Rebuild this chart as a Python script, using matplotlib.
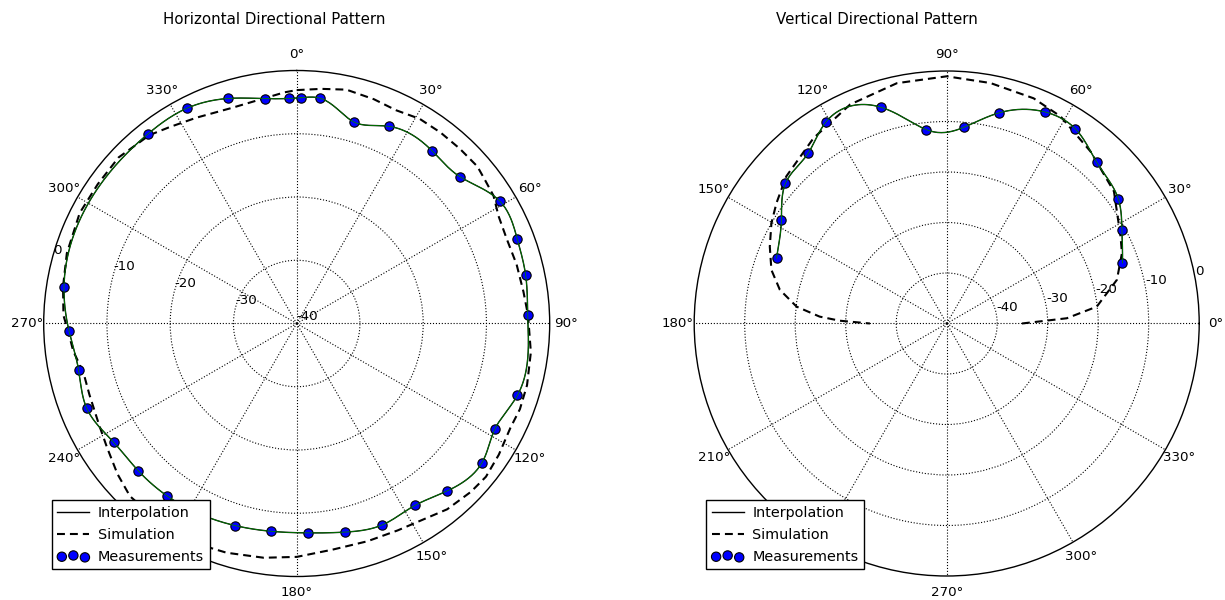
import numpy as np
import matplotlib.pyplot as plt

# Horizontal pattern (compass angles in degrees, level in dB)
h_meas_deg = [1, 6, 16, 25, 38, 48, 59, 69, 78, 88, 108, 118, 127, 138, 147,
              157, 167, 177, 187, 197, 207, 217, 227, 237, 248, 258, 268, 279,
              322, 333, 343, 352, 358]
h_meas_db = [-4.3, -4.2, -6.9, -5.6, -5.3, -5.3, -2.5, -2.65, -3.0, -3.45,
             -3.3, -4.5, -3.35, -4.4, -5.7, -5.4, -6.15, -6.85, -6.9, -6.6,
             -6.2, -5.9, -5.8, -5.5, -4.2, -4.75, -4.0, -2.75,
             -1.9, -1.8, -2.8, -4.1, -4.4]

h_sim_deg = [0, 6, 12, 19, 25, 31, 37, 43, 49, 53, 57, 62, 68, 75, 82, 88,
             97, 105, 111, 116, 123, 129, 134, 141, 147, 154, 162, 171, 180,
             188, 197, 206, 215, 224, 230, 237, 243, 251, 257, 263, 268, 272,
             279, 287, 297, 305, 313, 322, 327, 334, 343, 357, 360]
h_sim_db = [-3.1, -2.7, -2.2, -2.5, -2.8, -2.25, -2.2, -2.2, -2.15, -2.6,
            -2.9, -3.85, -4.2, -4.0, -3.8, -3.4, -2.7, -2.3, -2.2, -2.4,
            -1.9, -1.5, -1.7, -2.2, -3.1, -3.6, -3.8, -3.8, -3.1,
            -2.6, -2.1, -1.6, -1.8, -2.05, -3.0, -4.2, -4.9, -5.35, -5.4,
            -4.4, -3.85, -3.1, -2.6, -2.0, -1.5, -1.6, -1.5, -2.2, -3.0,
            -3.8, -4.4, -3.4, -3.1]

# Vertical pattern (standard angles in degrees, level in dB)
v_meas_deg = [19, 28, 36, 47, 56.5, 65, 76, 85, 96, 107, 121, 129, 139, 148, 159]
v_meas_db = [-13.2, -10.7, -8.0, -6.4, -3.8, -3.8, -7.0, -11.0, -11.4, -5.2,
             -3.5, -6.5, -7.7, -11.4, -13.9]

v_sim_deg = [0, 2.5, 6.4, 14.4, 21.9, 26.6, 38.3, 50.1, 61.2, 68.9, 79.7, 90,
             101.7, 113.8, 125.7, 137.5, 144.7, 150.2, 156.5, 163, 168.6,
             173.6, 176.9, 178.5, 180]
v_sim_db = [-35.1, -26.2, -20.1, -15.2, -12.6, -11.5, -7.8, -5.6, -3.2, -2.2,
            -1.6, -1.05, -1.4, -2.6, -4.8, -6.9, -8.7, -10.0, -11.8, -13.7,
            -16.3, -20.1, -24.8, -28.8, -34.8]

h_rticks = [-40, -30, -20, -10, 0]
v_rticks = [-40, -30, -20, -10, 0]
theta_ticks = list(range(0, 360, 30))
theta_labels = [f'{t}\u00b0' for t in theta_ticks]


def spline(x, y, xs):
    # natural cubic spline
    x = np.asarray(x, float)
    y = np.asarray(y, float)
    n = len(x)
    h = np.diff(x)
    A = np.zeros((n, n))
    b = np.zeros(n)
    A[0, 0] = A[-1, -1] = 1
    for i in range(1, n - 1):
        A[i, i - 1] = h[i - 1]
        A[i, i] = 2 * (h[i - 1] + h[i])
        A[i, i + 1] = h[i]
        b[i] = 3 * ((y[i + 1] - y[i]) / h[i] - (y[i] - y[i - 1]) / h[i - 1])
    c = np.linalg.solve(A, b)
    idx = np.clip(np.searchsorted(x, xs) - 1, 0, n - 2)
    dx = xs - x[idx]
    bb = (y[idx + 1] - y[idx]) / h[idx] - h[idx] * (2 * c[idx] + c[idx + 1]) / 3
    d = (c[idx + 1] - c[idx]) / (3 * h[idx])
    return y[idx] + bb * dx + c[idx] * dx ** 2 + d * dx ** 3


fs = 9.6
leg_fs = 10.4
dash = (0, (3.8, 2.4))

fig = plt.figure(figsize=(12.25, 6), dpi=100)


def style_axes(ax, rticks, rlim, label_angle, theta_r):
    ax.set_ylim(*rlim)
    ax.set_yticks([t for t in rticks if rlim[0] < t < rlim[1]])
    ax.set_yticklabels([])
    ax.set_xticks(np.deg2rad(theta_ticks))
    ax.set_xticklabels([])
    ax.grid(True, linestyle=':', color='black', linewidth=0.8)
    ax.spines['polar'].set_color('black')
    ax.spines['polar'].set_linewidth(1.0)
    for t in rticks:
        ax.text(np.deg2rad(label_angle), t, str(t), ha='left', va='bottom',
                fontsize=fs)
    for t, lab in zip(theta_ticks, theta_labels):
        ax.text(np.deg2rad(t), theta_r, lab, ha='center', va='center',
                fontsize=fs)


# Left: horizontal
ax1 = fig.add_axes([0.03567, 0.03917, 0.41306, 0.84333], projection='polar')
ax1.set_theta_zero_location('N')
ax1.set_theta_direction(-1)
style_axes(ax1, h_rticks, (-40, 0), 285.3, 2.55)

hx = np.array(h_meas_deg, float)
hy = np.array(h_meas_db, float)
k = 4
hx_ext = np.concatenate([hx[-k:] - 360, hx, hx[:k] + 360])
hy_ext = np.concatenate([hy[-k:], hy, hy[:k]])
h_fine = np.linspace(hx[0], hx[0] + 360, 721)
h_interp = spline(hx_ext, hy_ext, h_fine)

ax1.plot(np.deg2rad(h_fine), h_interp, color='black', lw=1.0,
         label='Interpolation', zorder=3)
ax1.plot(np.deg2rad(h_sim_deg), h_sim_db, color='black', lw=1.5,
         linestyle=dash, label='Simulation', zorder=2)
ax1.scatter(np.deg2rad(hx), hy, s=45, c='blue', edgecolors='black',
            linewidths=0.8, label='Measurements', zorder=4)
ax1.plot(np.deg2rad(h_fine), h_interp, color='green', lw=0.6, zorder=5)

# Right: vertical
ax2 = fig.add_axes([0.5667, 0.04, 0.41224, 0.84167], projection='polar')
style_axes(ax2, v_rticks, (-50, 0), 10.3, 3.2)

vx = np.array(v_meas_deg, float)
vy = np.array(v_meas_db, float)
v_fine = np.linspace(vx[0], vx[-1], 400)
v_interp = spline(vx, vy, v_fine)

ax2.plot(np.deg2rad(v_fine), v_interp, color='black', lw=1.0,
         label='Interpolation', zorder=3)
ax2.plot(np.deg2rad(v_sim_deg), v_sim_db, color='black', lw=1.5,
         linestyle=dash, label='Simulation', zorder=2)
ax2.scatter(np.deg2rad(vx), vy, s=45, c='blue', edgecolors='black',
            linewidths=0.8, label='Measurements', zorder=4)
ax2.plot(np.deg2rad(v_fine), v_interp, color='green', lw=0.6, zorder=5)

for ax, x0 in [(ax1, 51.7), (ax2, 706)]:
    leg = ax.legend(loc='lower left', bbox_to_anchor=(x0 / 1225, 30.7 / 600),
                    bbox_transform=fig.transFigure, borderaxespad=0,
                    fontsize=leg_fs, scatterpoints=3, fancybox=False,
                    framealpha=1, edgecolor='black', handlelength=2.2,
                    handletextpad=0.6, labelspacing=0.55)
    leg.get_frame().set_linewidth(1.0)
    leg.set_zorder(10)

fig.text(274 / 1225, 1 - 20 / 600, 'Horizontal Directional Pattern',
         ha='center', va='center', fontsize=10.8)
fig.text(877 / 1225, 1 - 20 / 600, 'Vertical Directional Pattern',
         ha='center', va='center', fontsize=10.8)

plt.savefig('out.png', dpi=100)
